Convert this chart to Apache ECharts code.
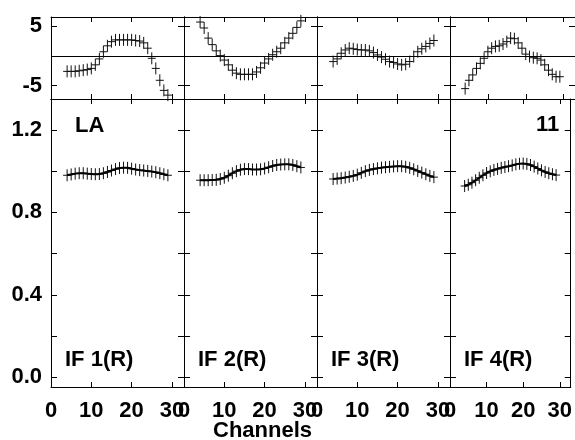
<!DOCTYPE html>
<html><head><meta charset="utf-8">
<script src="https://cdn.jsdelivr.net/npm/echarts@6/dist/echarts.min.js"></script>
<style>html,body{margin:0;padding:0;background:#fff}#c{width:575px;height:440px}</style>
</head><body><div id="c"></div>
<script>
// ---- data ----
const channels = [4,5,6,7,8,9,10,11,12,13,14,15,16,17,18,19,20,21,22,23,24,25,26,27,28,29];
const ifLabels = ['IF 1(R)','IF 2(R)','IF 3(R)','IF 4(R)'];
const sourceLabel = 'LA';
const antennaLabel = '11';
const xAxisTitle = 'Channels';

const phase1 = [-2.6,-2.6,-2.6,-2.5,-2.4,-2.3,-2.1,-1.5,-0.5,0.7,1.7,2.4,2.7,2.7,2.7,2.7,2.7,2.6,2.5,2.2,1.3,-0.4,-2.1,-4.1,-5.8,-6.6];
const phase2 = [5.7,4.7,3.0,1.9,0.85,0.05,-0.7,-1.5,-2.4,-2.9,-3.1,-3.1,-3.1,-3.1,-2.7,-2.0,-1.2,-0.5,0.2,0.7,1.3,2.2,3.0,3.8,4.8,5.9];
const phase3 = [-0.95,-0.5,0.45,1.0,1.3,1.2,1.07,1.0,1.0,0.85,0.56,0.17,-0.2,-0.56,-0.95,-1.1,-1.35,-1.5,-1.4,-0.95,-0.1,0.7,1.2,1.6,2.1,2.6];
const phase4 = [-5.5,-4.1,-3.2,-2.1,-1.25,-0.4,0.7,1.3,1.6,1.7,2.0,2.4,3.0,2.9,2.2,1.3,0.3,-0.1,-0.3,-0.4,-0.7,-1.5,-2.4,-3.1,-3.5,-3.5];

const amp1 = [0.980,0.984,0.988,0.990,0.990,0.988,0.986,0.985,0.986,0.990,0.996,1.003,1.010,1.015,1.017,1.016,1.012,1.008,1.005,1.003,1.001,0.998,0.995,0.990,0.985,0.980];
const amp2 = [0.956,0.956,0.956,0.957,0.958,0.962,0.968,0.978,0.990,1.000,1.007,1.010,1.010,1.008,1.008,1.009,1.013,1.019,1.025,1.030,1.032,1.033,1.033,1.030,1.024,1.018];
const amp3 = [0.962,0.964,0.966,0.969,0.973,0.977,0.983,0.992,1.000,1.006,1.010,1.014,1.017,1.019,1.021,1.023,1.024,1.024,1.021,1.016,1.009,1.001,0.993,0.985,0.977,0.971];
const amp4 = [0.928,0.934,0.944,0.956,0.968,0.980,0.991,0.999,1.006,1.011,1.016,1.020,1.024,1.028,1.033,1.036,1.037,1.035,1.030,1.022,1.013,1.004,0.996,0.990,0.985,0.981];

const xTicks = [0,10,20,30];
const phaseTicks = [-5,0,5];
const phaseLabelTicks = [-5,5];
const ampTicks = [0,0.2,0.4,0.6,0.8,1.0,1.2];
const ampLabelTicks = [0,0.4,0.8,1.2];

const phases = [phase1,phase2,phase3,phase4];
const amps = [amp1,amp2,amp3,amp4];

// ---- layout ----
const FONT = '"Liberation Sans", Arial, sans-serif';
const FS = 22;
const colLeft = 51, colW = 133;
const topT = 17, topH = 82, botT = 99, botH = 288;
const phaseRange = [-7.25, 6.55];
const ampRange = [-0.047, 1.35];
const lineCol = '#000';

const grids = [], xAxes = [], yAxes = [], series = [], graphics = [];

function cross(h, w) {
  return function (params, api) {
    const p = api.coord([api.value(0), api.value(1)]);
    const st = {stroke:'#111', lineWidth:1};
    return {type:'group', children:[
      {type:'line', shape:{x1:p[0]-w, y1:p[1], x2:p[0]+w, y2:p[1]}, style:st},
      {type:'line', shape:{x1:p[0], y1:p[1]-h, x2:p[0], y2:p[1]+h}, style:st}
    ]};
  };
}

for (let c = 0; c < 4; c++) {
  const left = colLeft + colW*c;
  const gT = grids.length;
  grids.push({left:left, top:topT, width:colW, height:topH});
  const gB = grids.length;
  grids.push({left:left, top:botT, width:colW, height:botH});

  [gT, gB].forEach(function (g) {
    const isBot = g === gB;
    ['bottom','top'].forEach(function (pos) {
      xAxes.push({
        type:'value', gridIndex:g, position:pos, min:0, max:33,
        axisLine:{show:true, onZero:false, lineStyle:{color:lineCol, width:1}},
        axisTick:{show:true, inside:true, length:5, customValues:xTicks, lineStyle:{color:lineCol}},
        axisLabel:{show: isBot && pos==='bottom', customValues:xTicks, margin:13,
          fontSize:FS, fontWeight:'bold', color:'#000', fontFamily:FONT},
        splitLine:{show:false}
      });
    });
    ['left','right'].forEach(function (pos) {
      yAxes.push({
        type:'value', gridIndex:g, position:pos,
        min: isBot ? ampRange[0] : phaseRange[0],
        max: isBot ? ampRange[1] : phaseRange[1],
        axisLine:{show:true, onZero:false, lineStyle:{color:lineCol, width:1}},
        axisTick:{show:true, inside:true, length:6, customValues: isBot ? ampTicks : phaseTicks, lineStyle:{color:lineCol}},
        axisLabel:{show: c===0 && pos==='left', customValues: isBot ? ampLabelTicks : phaseLabelTicks,
          margin:9, fontSize:FS, fontWeight:'bold', color:'#000', fontFamily:FONT,
          formatter: isBot ? function(v){return v.toFixed(1);} : function(v){return String(v);}},
        splitLine:{show:false}
      });
    });
  });

  const phaseData = channels.map(function(ch,i){return [ch, phases[c][i]];});
  const ampData = channels.map(function(ch,i){return [ch, amps[c][i]];});

  // zero reference line
  series.push({type:'line', xAxisIndex:2*gT, yAxisIndex:2*gT, data:phaseData,
    showSymbol:false, lineStyle:{opacity:0}, silent:true,
    markLine:{silent:true, symbol:['none','none'], label:{show:false},
      lineStyle:{color:'#000', width:1, type:'solid'}, data:[{yAxis:0}]}});
  series.push({type:'custom', xAxisIndex:2*gT, yAxisIndex:2*gT, data:phaseData,
    renderItem:cross(6,4), clip:false, silent:true});
  series.push({type:'line', xAxisIndex:2*gB, yAxisIndex:2*gB, data:ampData,
    showSymbol:false, smooth:0.3, lineStyle:{color:'#000', width:2}, silent:true});
  series.push({type:'custom', xAxisIndex:2*gB, yAxisIndex:2*gB, data:ampData,
    renderItem:cross(6,4), clip:false, silent:true});

  graphics.push({type:'text', left:left+14, top:349,
    style:{text:ifLabels[c], fontSize:FS, fontWeight:'bold', fill:'#000', fontFamily:FONT}});
}

graphics.push({type:'text', left:75, top:115,
  style:{text:sourceLabel, fontSize:FS, fontWeight:'bold', fill:'#000', fontFamily:FONT}});
graphics.push({type:'text', left:536, top:114,
  style:{text:antennaLabel, fontSize:FS, fontWeight:'bold', fill:'#000', fontFamily:FONT}});
graphics.push({type:'text', left:213, top:420,
  style:{text:xAxisTitle, fontSize:FS, fontWeight:'bold', fill:'#000', fontFamily:FONT}});

const chart = echarts.init(document.getElementById('c'), null, {renderer:'canvas'});
chart.setOption({
  animation:false,
  backgroundColor:'#fff',
  grid:grids, xAxis:xAxes, yAxis:yAxes, series:series, graphic:graphics
});
</script></body></html>
